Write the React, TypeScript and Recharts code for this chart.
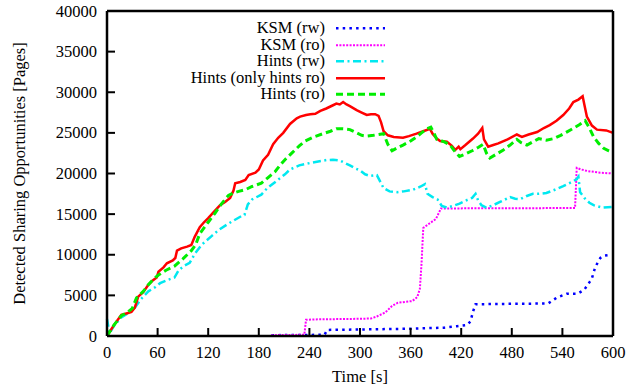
import React from "react";
import { Legend, Line, LineChart, XAxis, YAxis } from "recharts";

const FONT = "'Liberation Serif', 'Times New Roman', serif";

// KSM (rw)
const ksmRwTime = [195, 258, 261, 300, 360, 400, 415, 427, 431, 434, 437, 470, 523, 533, 545, 558, 566, 572, 575, 579, 585, 590, 597];
const ksmRwValue = [100, 150, 750, 800, 900, 1030, 1200, 1350, 1800, 3000, 3900, 3950, 4000, 4700, 5200, 5200, 5700, 6600, 7100, 8500, 9600, 9900, 10000];

// KSM (ro)
const ksmRoTime = [195, 234, 236, 250, 290, 313, 320, 330, 338, 345, 362, 368, 371, 373, 375, 383, 390, 396, 555, 557, 562, 570, 585, 600];
const ksmRoValue = [100, 150, 2000, 2050, 2100, 2150, 2400, 2900, 3700, 4100, 4300, 4800, 5800, 9000, 13300, 13900, 14400, 15700, 15750, 20700, 20500, 20300, 20100, 20000];

// Hints (rw)
const hintsRwTime = [0, 3, 8, 17, 25, 33, 40, 49, 57, 63, 72, 80, 85, 91, 98, 104, 112, 124, 133, 142, 150, 160, 163, 167, 172, 183, 190, 200, 211, 217, 228, 241, 252, 260, 268, 276, 282, 288, 295, 300, 306, 312, 320, 324, 328, 335, 344, 352, 363, 372, 377, 380, 386, 392, 397, 403, 410, 418, 426, 433, 437, 440, 444, 450, 458, 466, 472, 478, 484, 490, 497, 505, 512, 521, 531, 541, 550, 557, 559, 561, 566, 572, 577, 588, 600];
const hintsRwValue = [2100, 300, 1200, 2300, 2800, 3500, 4500, 5500, 6000, 6500, 6900, 7200, 8100, 8600, 9000, 10100, 11200, 12300, 13100, 13700, 14200, 14800, 14900, 16200, 16800, 17400, 18200, 19000, 19900, 20500, 21000, 21300, 21500, 21650, 21700, 21600, 21300, 21000, 20600, 20400, 19900, 19700, 19800, 19000, 18200, 17800, 17700, 17800, 18000, 18400, 18700, 17500, 17100, 16800, 16000, 15800, 16000, 16300, 16700, 17000, 17500, 16700, 16100, 15800, 16100, 16500, 16800, 17100, 16900, 16850, 17200, 17500, 17500, 17600, 18000, 18450, 18900, 19300, 19600, 17700, 17000, 16400, 16100, 15800, 15900];

// Hints (only hints ro)
const hintsOnlyTime = [0, 8, 17, 24, 29, 33, 37, 43, 49, 55, 59, 61, 67, 71, 78, 81, 83, 88, 95, 100, 104, 110, 115, 120, 127, 134, 140, 146, 150, 152, 158, 164, 168, 176, 180, 185, 191, 197, 203, 209, 217, 225, 229, 236, 241, 247, 253, 260, 268, 272, 276, 280, 284, 288, 296, 302, 308, 313, 318, 322, 325, 328, 333, 340, 351, 358, 367, 375, 383, 386, 391, 395, 403, 409, 413, 417, 419, 425, 434, 440, 445, 447, 452, 458, 464, 475, 486, 490, 492, 500, 510, 518, 525, 533, 541, 548, 553, 559, 564, 566, 569, 575, 581, 592, 600];
const hintsOnlyValue = [0, 1300, 2600, 2800, 2950, 3500, 4840, 5400, 6300, 6900, 7200, 7900, 8450, 8950, 9300, 9600, 10500, 10780, 11000, 11200, 12200, 13400, 14000, 14500, 15300, 16100, 16500, 17000, 17900, 18800, 18950, 19200, 19800, 20100, 20500, 21600, 22300, 23600, 24400, 25000, 26100, 26800, 27000, 27200, 27300, 27350, 27700, 28000, 28400, 28600, 28500, 28800, 28500, 28300, 27800, 27500, 27200, 27300, 27300, 27100, 26300, 25200, 24700, 24500, 24400, 24600, 24900, 25200, 25500, 24900, 24300, 24000, 23900, 23400, 22900, 23300, 23000, 23500, 24300, 24900, 25600, 24200, 23300, 23500, 23700, 24200, 24800, 24600, 24500, 24800, 25100, 25600, 25950, 26500, 27200, 28000, 28800, 29100, 29500, 28500, 27000, 25900, 25400, 25300, 25000];

// Hints (ro)
const hintsRoTime = [0, 8, 17, 24, 30, 35, 43, 49, 55, 61, 70, 80, 90, 100, 105, 110, 120, 128, 136, 144, 150, 156, 164, 172, 183, 191, 199, 205, 211, 220, 228, 235, 245, 256, 265, 272, 280, 288, 296, 302, 308, 316, 322, 328, 333, 338, 345, 351, 360, 367, 373, 379, 384, 388, 391, 400, 407, 411, 418, 425, 433, 440, 446, 450, 454, 462, 470, 478, 486, 491, 498, 505, 512, 521, 530, 538, 545, 552, 560, 567, 572, 577, 583, 589, 595, 600];
const hintsRoValue = [0, 1300, 2500, 2900, 3400, 4700, 5500, 6300, 7000, 7500, 8100, 8600, 9500, 10500, 11200, 12600, 14000, 15100, 16300, 17300, 17600, 17800, 18000, 18400, 18800, 19500, 20200, 21000, 21700, 22600, 23400, 24000, 24500, 24900, 25200, 25500, 25500, 25400, 25000, 24700, 24600, 24700, 24800, 24900, 23600, 22800, 23200, 23500, 24000, 24500, 25000, 25500, 25700, 24900, 24200, 23900, 23500, 22900, 22100, 22400, 22800, 23200, 23600, 22500, 21900, 22400, 22900, 23500, 24200, 23800, 23500, 23900, 24300, 24100, 24300, 24700, 25100, 25500, 26000, 26500, 25600, 24500, 23700, 23100, 22800, 22600];

const xTicks = [0, 60, 120, 180, 240, 300, 360, 420, 480, 540, 600];
const yTicks = [0, 5000, 10000, 15000, 20000, 25000, 30000, 35000, 40000];

const toPoints = (time: number[], value: number[]) =>
  time.map((t, i) => ({ t, v: value[i] }));

const series = [
  { name: "KSM (rw)", data: toPoints(ksmRwTime, ksmRwValue), color: "#0000ff", dash: "2.5 4.2", width: 2.5 },
  { name: "KSM (ro)", data: toPoints(ksmRoTime, ksmRoValue), color: "#ff00ff", dash: "2 1.4", width: 2 },
  { name: "Hints (rw)", data: toPoints(hintsRwTime, hintsRwValue), color: "#00e8f0", dash: "8 3.5 2 3.5", width: 2.5 },
  { name: "Hints (only hints ro)", data: toPoints(hintsOnlyTime, hintsOnlyValue), color: "#ff0000", dash: undefined, width: 2.5 },
  { name: "Hints (ro)", data: toPoints(hintsRoTime, hintsRoValue), color: "#00ee00", dash: "7 4", width: 3 },
];

const BottomTick = ({ x, y, payload }: any) => (
  <g>
    <line x1={x} y1={y} x2={x} y2={y - 8} stroke="#000" strokeWidth={2} />
    <text x={x} y={y + 22} textAnchor="middle" fontSize={16.5} fontFamily={FONT} fill="#000">
      {payload.value}
    </text>
  </g>
);

const TopTick = ({ x, y }: any) => (
  <line x1={x} y1={y} x2={x} y2={y + 8} stroke="#000" strokeWidth={2} />
);

const LeftTick = ({ x, y, payload }: any) => (
  <g>
    <line x1={x} y1={y} x2={x + 8} y2={y} stroke="#000" strokeWidth={2} />
    <text x={x - 10} y={y + 5.5} textAnchor="end" fontSize={16.5} fontFamily={FONT} fill="#000">
      {payload.value}
    </text>
  </g>
);

const RightTick = ({ x, y }: any) => (
  <line x1={x} y1={y} x2={x - 8} y2={y} stroke="#000" strokeWidth={2} />
);

const XTitle = ({ viewBox }: any) => (
  <text
    x={viewBox.x + viewBox.width / 2}
    y={388 - 6}
    textAnchor="middle"
    fontSize={16.5}
    fontFamily={FONT}
    fill="#000"
  >
    Time [s]
  </text>
);

const YTitle = ({ viewBox }: any) => {
  const cx = 25;
  const cy = viewBox.y + viewBox.height / 2;
  return (
    <text
      x={cx}
      y={cy}
      transform={`rotate(-90, ${cx}, ${cy})`}
      textAnchor="middle"
      fontSize={16.5}
      fontFamily={FONT}
      fill="#000"
    >
      Detected Sharing Opportunities [Pages]
    </text>
  );
};

const KeyBox = () => (
  <div style={{ fontFamily: FONT, fontSize: 16.5, color: "#000" }}>
    {series.map((s) => (
      <div key={s.name} style={{ display: "flex", alignItems: "center", height: 16.6 }}>
        <span style={{ width: 225, textAlign: "right", lineHeight: "16.6px", whiteSpace: "nowrap" }}>
          {s.name}
        </span>
        <svg width={49} height={16.6} style={{ marginLeft: 11 }}>
          <line
            x1={0}
            y1={8.3}
            x2={49}
            y2={8.3}
            stroke={s.color}
            strokeWidth={s.width}
            strokeDasharray={s.dash}
          />
        </svg>
      </div>
    ))}
  </div>
);

const axisLineStyle = { stroke: "#000", strokeWidth: 2.5 };

const App = () => {
  return (
    <div style={{ position: "absolute", left: 0, top: 0, background: "#fff" }}>
      <LineChart
        width={639}
        height={389}
        margin={{ top: 10, right: 25, bottom: 52, left: 106 }}
      >
        <XAxis
          dataKey="t"
          type="number"
          domain={[0, 600]}
          ticks={xTicks}
          interval={0}
          height={1}
          tickSize={0}
          tickMargin={0}
          tickLine={false}
          axisLine={axisLineStyle}
          tick={<BottomTick />}
          label={<XTitle />}
        />
        <XAxis
          xAxisId="top"
          orientation="top"
          dataKey="t"
          type="number"
          domain={[0, 600]}
          ticks={xTicks}
          interval={0}
          height={1}
          tickSize={0}
          tickMargin={0}
          tickLine={false}
          axisLine={axisLineStyle}
          tick={<TopTick />}
        />
        <YAxis
          type="number"
          domain={[0, 40000]}
          ticks={yTicks}
          interval={0}
          width={1}
          tickSize={0}
          tickMargin={0}
          tickLine={false}
          axisLine={axisLineStyle}
          tick={<LeftTick />}
          label={<YTitle />}
        />
        <YAxis
          yAxisId="right"
          orientation="right"
          type="number"
          domain={[0, 40000]}
          ticks={yTicks}
          interval={0}
          width={1}
          tickSize={0}
          tickMargin={0}
          tickLine={false}
          axisLine={axisLineStyle}
          tick={<RightTick />}
        />
        <Legend
          layout="horizontal"
          verticalAlign="middle"
          align="center"
          content={<KeyBox />}
          wrapperStyle={{ top: 20, left: 100, width: 300, height: 85 }}
        />
        {series.map((s) => (
          <Line
            key={s.name}
            data={s.data}
            dataKey="v"
            name={s.name}
            type="linear"
            stroke={s.color}
            strokeWidth={s.width}
            strokeDasharray={s.dash}
            dot={false}
            activeDot={false}
            isAnimationActive={false}
          />
        ))}
      </LineChart>
    </div>
  );
};

export default App;
